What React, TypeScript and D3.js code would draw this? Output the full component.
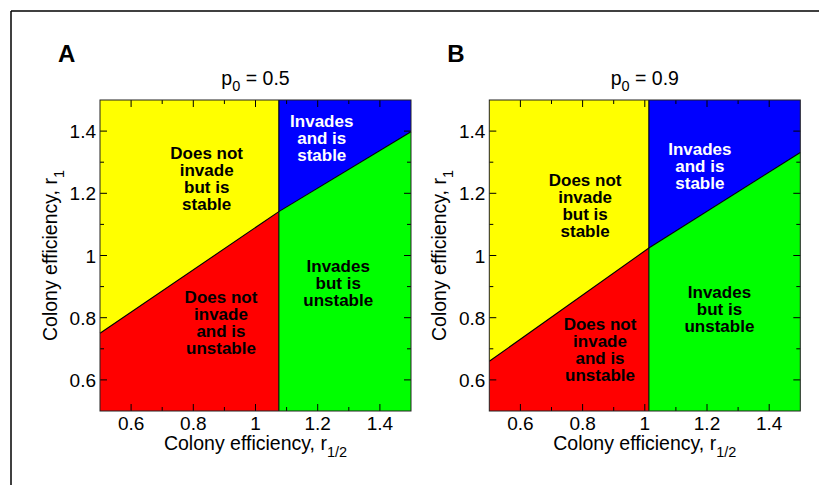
import React from "react";
import * as d3 from "d3";

// ---- data ----
const panelLetters = ["A", "B"];
const p0Values = ["0.5", "0.9"];
const invasionThreshold = [1.075, 1.013]; // vertical boundary (r_1/2)
const stabilityAtLeft = [0.75, 0.66]; // r_1 at r_1/2 = 0.5
const stabilityAtThreshold = [1.141, 1.024]; // r_1 at the vertical boundary
const stabilityAtRight = [1.398, 1.331]; // r_1 at r_1/2 = 1.5
const majorTicks = [0.6, 0.8, 1, 1.2, 1.4];
const minorTicks = [0.7, 0.9, 1.1, 1.3];
const tickLabels = ["0.6", "0.8", "1", "1.2", "1.4"];
const regionNames = ["yellow", "blue", "green", "red"];
const regionTexts = [
  ["Does not", "invade", "but is", "stable"],
  ["Invades", "and is", "stable"],
  ["Invades", "but is", "unstable"],
  ["Does not", "invade", "and is", "unstable"],
];
// label anchors in data coordinates [x, first baseline y], per panel
const regionAnchorsA = [[0.843, 1.31], [1.213, 1.412], [1.266, 0.948], [0.889, 0.846]];
const regionAnchorsB = [[0.808, 1.223], [1.177, 1.323], [1.24, 0.862], [0.856, 0.76]];

const COLORS: Record<string, string> = {
  yellow: "#ffff00",
  blue: "#0000ff",
  green: "#00ff00",
  red: "#ff0000",
};
const FONT = "'Liberation Sans', Arial, Helvetica, sans-serif";

function Panel({ idx, left }: { idx: number; left: number }) {
  const size = 311;
  const top = 100;
  const x = d3.scaleLinear().domain([0.5, 1.5]).range([left, left + size]);
  const y = d3.scaleLinear().domain([0.5, 1.5]).range([top + size, top]);
  const thr = invasionThreshold[idx];
  const l = stabilityAtLeft[idx];
  const m = stabilityAtThreshold[idx];
  const r = stabilityAtRight[idx];
  const line = d3
    .line<[number, number]>()
    .x((d) => x(d[0]))
    .y((d) => y(d[1]));
  const polys: Record<string, [number, number][]> = {
    yellow: [[0.5, 1.5], [thr, 1.5], [thr, m], [0.5, l]],
    red: [[0.5, l], [thr, m], [thr, 0.5], [0.5, 0.5]],
    blue: [[thr, 1.5], [1.5, 1.5], [1.5, r], [thr, m]],
    green: [[thr, m], [1.5, r], [1.5, 0.5], [thr, 0.5]],
  };
  const anchors = idx === 0 ? regionAnchorsA : regionAnchorsB;
  const yb = top + size;
  const xr = left + size;
  const fs = 19;
  const ts = 19.5;
  return (
    <g>
      {Object.keys(polys).map((k) => (
        <path key={k} d={line(polys[k])! + "Z"} fill={COLORS[k]} stroke="none" />
      ))}
      <path d={line([[0.5, l], [thr, m], [1.5, r]])!} fill="none" stroke="#000" strokeWidth={1.1} />
      <path d={line([[thr, 0.5], [thr, 1.5]])!} fill="none" stroke="#000" strokeWidth={1.1} />
      {/* ticks */}
      {majorTicks.concat(minorTicks).map((t, i) => {
        const len = i < majorTicks.length ? 7 : 4;
        return (
          <g key={"t" + i} stroke="#000" strokeWidth={1}>
            <line x1={x(t)} x2={x(t)} y1={yb} y2={yb - len} />
            <line x1={x(t)} x2={x(t)} y1={top} y2={top + len} />
            <line x1={left} x2={left + len} y1={y(t)} y2={y(t)} />
            <line x1={xr} x2={xr - len} y1={y(t)} y2={y(t)} />
          </g>
        );
      })}
      <rect x={left} y={top} width={size} height={size} fill="none" stroke="#222" strokeWidth={1} />
      {/* tick labels */}
      {majorTicks.map((t, i) => (
        <text key={"xl" + i} x={x(t)} y={yb + 19} textAnchor="middle" fontSize={fs} fontFamily={FONT}>
          {tickLabels[i]}
        </text>
      ))}
      {majorTicks.map((t, i) => (
        <text key={"yl" + i} x={left - 4} y={y(t) + 7} textAnchor="end" fontSize={fs} fontFamily={FONT}>
          {tickLabels[i]}
        </text>
      ))}
      {/* axis titles */}
      <text x={left + size / 2} y={450} textAnchor="middle" fontSize={ts} fontFamily={FONT}>
        Colony efficiency, r
        <tspan dy={7} fontSize={14.5}>1/2</tspan>
      </text>
      <text
        transform={`translate(${left - 43},${top + size / 2}) rotate(-90)`}
        textAnchor="middle"
        fontSize={ts}
        fontFamily={FONT}
      >
        Colony efficiency, r
        <tspan dy={7} fontSize={14.5}>1</tspan>
      </text>
      {/* panel title */}
      <text x={left + size / 2} y={85} textAnchor="middle" fontSize={ts} fontFamily={FONT}>
        p<tspan dy={6} fontSize={14.5}>0</tspan>
        <tspan dy={-6}> = {p0Values[idx]}</tspan>
      </text>
      {/* panel letter */}
      <text x={left - 42} y={62} fontSize={24} fontWeight="bold" fontFamily={FONT}>
        {panelLetters[idx]}
      </text>
      {/* region labels */}
      {regionNames.map((name, ri) => (
        <text
          key={name}
          x={x(anchors[ri][0])}
          y={y(anchors[ri][1])}
          textAnchor="middle"
          fontSize={17}
          fontWeight="bold"
          fontFamily={FONT}
          fill={name === "blue" ? "#fff" : "#000"}
        >
          {regionTexts[ri].map((s, k) => (
            <tspan key={k} x={x(anchors[ri][0])} dy={k === 0 ? 0 : 17}>
              {s}
            </tspan>
          ))}
        </text>
      ))}
    </g>
  );
}

export default function App() {
  return (
    <svg
      width={819}
      height={485}
      style={{ position: "absolute", left: 0, top: 0, background: "#fff" }}
    >
      <rect x={0} y={0} width={819} height={485} fill="#fff" />
      <line x1={11} y1={11} x2={819} y2={11} stroke="#000" strokeWidth={1.5} />
      <line x1={11} y1={11} x2={11} y2={485} stroke="#000" strokeWidth={1.5} />
      <Panel idx={0} left={100} />
      <Panel idx={1} left={489.3} />
    </svg>
  );
}
